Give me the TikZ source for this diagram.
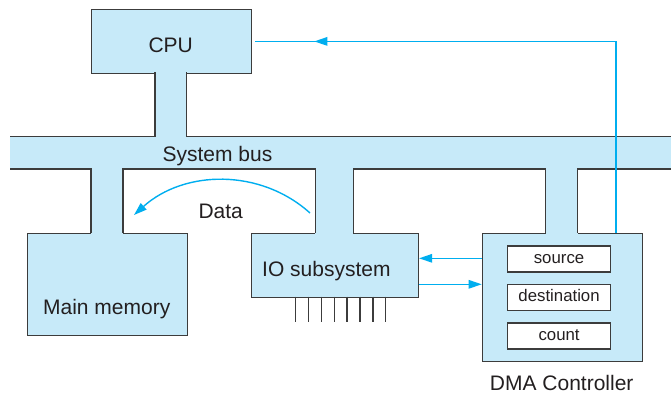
\documentclass[tikz,border=0pt]{standalone}
\usepackage{fontspec}
\setmainfont{Liberation Sans}
\usetikzlibrary{arrows.meta,decorations.markings}
\definecolor{busfill}{HTML}{C7EAF9}
\definecolor{outl}{HTML}{3C3C3C}
\definecolor{cyanline}{HTML}{00AEEF}
\definecolor{txt}{HTML}{231F20}
\newcommand\busstem[4]{%
  \fill[busfill] (#1,#3-1) rectangle (#2,#4+1);
  \draw[stemside] (#1,#3) -- (#1,#4);
  \draw[stemside] (#2,#3) -- (#2,#4);
}
\begin{document}
\begin{tikzpicture}[x=1pt,y=-1pt,
  outline/.style={draw=outl,line width=1.4pt},
  unit/.style={rectangle,outline,fill=busfill,inner sep=0pt,anchor=north west},
  reg/.style={rectangle,outline,fill=white,inner sep=0pt,anchor=north west,minimum width=103.3pt,minimum height=26pt,font=\fontsize{16.8}{18}\selectfont,text height=12pt,text depth=4pt,text=txt},
  lbl/.style={anchor=base,inner sep=0pt,font=\fontsize{21}{24}\selectfont,text=txt},
  conn/.style={draw=cyanline,line width=1.4pt},
  tip/.style={-{Triangle[length=13pt,width=8.5pt]}},
  stemside/.style={outline,line cap=rect},
]
\useasboundingbox (0,0) rectangle (671,394);
% system bus
\node[rectangle,fill=busfill,inner sep=0pt,anchor=north west,minimum width=661pt,minimum height=31.8pt] (bus) at (10,136.7) {};
\draw[outline] (bus.north west) -- (bus.north east);
\draw[outline] (bus.south west) -- (bus.south east);
% units
\node[unit,minimum width=160.3pt,minimum height=64pt] (cpu) at (90.7,8.7) {};
\node[unit,minimum width=160pt,minimum height=102.3pt] (mem) at (26.7,232.7) {};
\node[unit,minimum width=166.7pt,minimum height=64pt] (io) at (251,232.7) {};
\node[unit,minimum width=160pt,minimum height=128.3pt] (dma) at (481.7,232.7) {};
% stems
\busstem{155}{186.7}{72.7}{136.7}
\busstem{91}{123}{168.5}{232.7}
\busstem{315.3}{353.3}{168.5}{232.7}
\busstem{545.7}{577.7}{168.5}{232.7}
% registers
\node[reg] (src) at (506.7,245.3) {source};
\node[reg] (dst) at (506.7,284) {destination};
\node[reg] (cnt) at (506.7,322.3) {count};
% labels
\node[lbl] (cpulbl) at (170.7,52.3) {CPU};
\node[lbl] (buslbl) at (217.5,161.3) {System bus};
\node[lbl] (memlbl) at (106.7,314) {Main memory};
\node[lbl] (iolbl) at (326.4,276.7) {IO subsystem};
\node[lbl] (datalbl) at (220.7,218.3) {Data};
\node[lbl] (dmalbl) at (561.7,390.7) {DMA Controller};
% device lines
\foreach \k in {0,...,7}
  \draw[outline] ({295.7+12.86*\k},296.7) -- ({295.7+12.86*\k},322.3);
% connectors
\coordinate (upline) at (616,0);
\coordinate (rowa) at (0,258.3);
\coordinate (rowb) at (0,284.3);
\draw[conn,postaction={decorate},decoration={markings,mark=at position 493pt with {\arrow{Triangle[length=13pt,width=8.5pt]}}}]
  (dma.north -| upline) |- ([xshift=2.3pt]cpu.east);
\draw[conn,tip] (dma.west |- rowa) -- (io.east |- rowa);
\draw[conn,tip] (io.east |- rowb) -- (dma.west |- rowb);
\coordinate (dfrom) at (310,213);
\coordinate (dto) at (134,215);
\draw[conn,tip] (dfrom) .. controls (260,168) and (184,170) .. (dto);
\end{tikzpicture}
\end{document}
